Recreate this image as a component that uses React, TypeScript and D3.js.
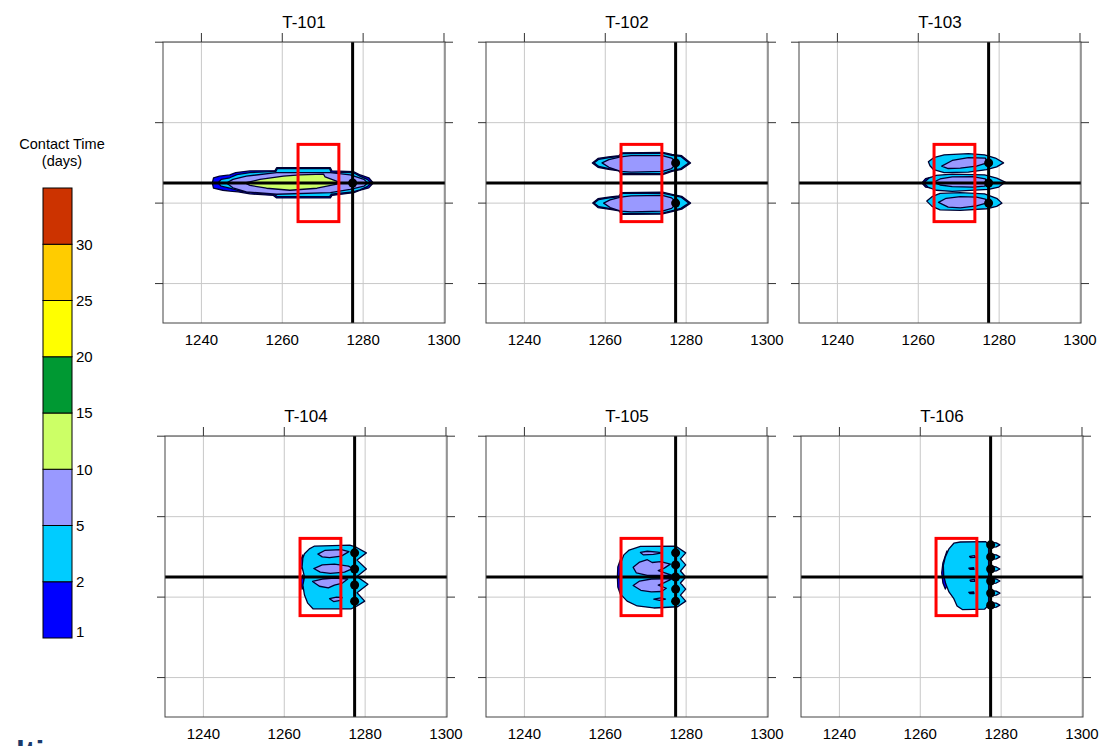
import React from "react";
import * as d3 from "d3";

type Pt = [number, number];
type Ring = { level: number; pts: Pt[] };

// axis ticks (x is labelled, y only ticked)
const X_TICKS = [1240, 1260, 1280, 1300];
const Y_TICKS = [10, 30, 50, 70];

// contact time classes (days) and their fill colours
const LEVELS = [1, 2, 5, 10, 15, 20, 25, 30];
const LEVEL_COLORS = ["#0000ff", "#00ccff", "#9999ff", "#ccff66", "#009933", "#ffff00", "#ffcc00", "#cc3300"];

const TITLES = ["T-101", "T-102", "T-103", "T-104", "T-105", "T-106"];

// crosshair and target zone
const CROSS_X = 1277.4;
const CROSS_Y = 35;
const TARGET_X = [1263.9, 1274.0];
const TARGET_Y = [25.4, 44.6];

// well screens (y positions on the crosshair line)
const WELLS_101 = [35];
const WELLS_102 = [40, 30];
const WELLS_103 = [40, 35, 30];
const WELLS_104 = [41, 37, 33, 29];
const WELLS_105 = [41, 38, 35, 32, 29];
const WELLS_106 = [43, 40, 37, 34, 31, 28];

const CONTOURS_101: Ring[] = [
  { level: 1, pts: [[1242.7, 35], [1243, 36.3], [1244.5, 36.7], [1247, 37], [1248.5, 37.6], [1252, 38], [1258.2, 38.1], [1258.6, 38.8], [1271.9, 38.8], [1272.3, 38], [1277.7, 37.8], [1279.3, 37], [1281.4, 36.3], [1282.5, 35], [1281.4, 33.8], [1279.3, 33.2], [1277.7, 32.6], [1272.3, 31.9], [1271.9, 31.3], [1258.6, 31.3], [1257.8, 31.9], [1252, 32.3], [1249.1, 32.8], [1247, 33], [1245.3, 33.2], [1243, 33.7]] },
  { level: 2, pts: [[1244.1, 35], [1244.9, 35.9], [1247, 36.3], [1248.8, 37.1], [1252, 37.6], [1258.4, 37.9], [1258.8, 38.6], [1271.7, 38.6], [1272.1, 37.7], [1277.5, 37.6], [1279.2, 36.7], [1281, 35.9], [1282, 35], [1281, 34.1], [1279.2, 33.3], [1277.5, 32.8], [1272.1, 32.2], [1271.7, 31.6], [1258.8, 31.6], [1258, 32.2], [1252, 32.6], [1248.8, 33.2], [1247, 33.7], [1244.9, 34.2]] },
  { level: 5, pts: [[1246.2, 35], [1247.8, 35.9], [1251.1, 36.7], [1258.6, 37.6], [1271.9, 37.6], [1276.8, 37], [1280.2, 35.9], [1281.1, 35], [1280.2, 34.2], [1276.8, 33.4], [1271.9, 32.6], [1258.6, 32.2], [1251.1, 32.8], [1247.8, 33.8]] },
  { level: 10, pts: [[1250.8, 35], [1254.5, 35.9], [1260.3, 36.7], [1264.4, 37], [1270.2, 37.2], [1270.6, 36.5], [1273.9, 35.3], [1273.5, 34.7], [1268.6, 33.7], [1261.9, 33.2], [1256.1, 33.7], [1252, 34.4]] },
];

const CONTOURS_102: Ring[] = [
  { level: 1, pts: [[1256.8, 40], [1258.2, 41.1], [1260.8, 41.5], [1263.4, 41.8], [1264, 42.5], [1274.2, 42.6], [1276.5, 42.1], [1278.9, 41.8], [1281.1, 40], [1278.9, 38.4], [1276.5, 37.9], [1274.2, 37.1], [1264, 37.1], [1263.4, 38], [1260.8, 38.4], [1258.2, 38.9]] },
  { level: 1, pts: [[1256.9, 30], [1258.2, 31.1], [1260.8, 31.5], [1263.4, 31.8], [1264, 32.6], [1274.2, 32.7], [1276.5, 32.2], [1278.9, 31.7], [1281.1, 30], [1278.9, 28.5], [1276.5, 27.9], [1274.2, 27.3], [1264, 27.2], [1263.4, 28.1], [1260.8, 28.5], [1258.2, 28.9]] },
  { level: 2, pts: [[1257.2, 40], [1258.4, 40.9], [1260.9, 41.3], [1263.6, 41.6], [1264.2, 42.3], [1274.1, 42.4], [1276.4, 41.9], [1278.7, 41.6], [1280.7, 40], [1278.7, 38.6], [1276.4, 38.1], [1274.1, 37.3], [1264.2, 37.3], [1263.6, 38.2], [1260.9, 38.6], [1258.4, 39.1]] },
  { level: 2, pts: [[1257.2, 30], [1258.4, 30.9], [1260.9, 31.3], [1263.6, 31.6], [1264.2, 32.4], [1274.1, 32.5], [1276.4, 32], [1278.7, 31.5], [1280.7, 30], [1278.7, 28.7], [1276.4, 28.1], [1274.1, 27.5], [1264.2, 27.4], [1263.6, 28.3], [1260.9, 28.7], [1258.4, 29.1]] },
  { level: 5, pts: [[1259.2, 40], [1260.9, 40.8], [1263.8, 41.5], [1266.4, 41.8], [1274.1, 41.8], [1276.4, 41.2], [1277.7, 40], [1276.4, 38.6], [1274.1, 37.9], [1266.4, 37.7], [1263.8, 37.9], [1260.9, 38.9]] },
  { level: 5, pts: [[1259.6, 30], [1261.2, 30.8], [1263.8, 31.5], [1266.4, 31.8], [1274.1, 31.9], [1276.4, 31.3], [1277.7, 30], [1276.4, 28.7], [1274.1, 28], [1266.4, 27.8], [1263.8, 28], [1261.2, 28.9]] },
];

const CONTOURS_103: Ring[] = [
  { level: 1, pts: [[1260.9, 35], [1261.8, 36.1], [1263, 36.4], [1263, 33.8], [1261.8, 34]] },
  { level: 2, pts: [[1262.5, 40.3], [1263.8, 41.3], [1266.4, 42], [1272.4, 42.3], [1276.4, 42], [1279.1, 41.2], [1281.1, 40], [1279.4, 39], [1276.9, 38.3], [1272.4, 37.7], [1266.4, 37.6], [1263.8, 38.3], [1262.9, 39.3]] },
  { level: 2, pts: [[1261.3, 35], [1262.6, 36.2], [1264.4, 36.9], [1268.4, 37.2], [1276.4, 37], [1279.4, 36.2], [1281.5, 35.2], [1279.9, 34], [1277.4, 33.4], [1268.4, 32.9], [1264.4, 33.2], [1262.4, 34]] },
  { level: 2, pts: [[1262.1, 30.5], [1263.4, 31.6], [1265.4, 32.4], [1270.4, 32.6], [1276.4, 32.3], [1279.4, 31.2], [1280.7, 30], [1279.4, 29.2], [1276.9, 28.6], [1270.4, 28.2], [1265.4, 28.3], [1263.4, 29.2]] },
  { level: 5, pts: [[1265.8, 39.2], [1268.4, 40.6], [1272.4, 41.3], [1276.6, 41.2], [1277, 40], [1274.4, 39.2], [1270.4, 38.7], [1267.4, 38.6]] },
  { level: 5, pts: [[1263.8, 35.2], [1265.4, 36], [1268.4, 36.5], [1273.4, 36.6], [1276.6, 36], [1276.9, 35], [1276.4, 34.2], [1273.4, 34], [1268.4, 34.1], [1265.4, 34.5]] },
  { level: 5, pts: [[1265, 30.2], [1266.9, 31.2], [1270.4, 31.6], [1274.4, 31.5], [1276.6, 31], [1276.8, 30], [1274.4, 29.3], [1270.4, 28.8], [1267.4, 29]] },
];

const CONTOURS_104: Ring[] = [
  { level: 1, pts: [[1264.6, 40.5], [1264, 39], [1264, 37.5], [1264.6, 36.8], [1265, 38.5]] },
  { level: 1, pts: [[1264.6, 35.5], [1264.1, 34], [1264.4, 32], [1265, 33]] },
  { level: 2, pts: [[1265, 40.8], [1266.2, 42], [1267.5, 42.7], [1276.2, 42.9], [1277.8, 42.4], [1280.3, 41], [1278, 39.2], [1280.3, 37], [1278, 35.1], [1280.7, 33.2], [1278, 31.1], [1279.9, 29], [1278, 27.8], [1276.6, 27.1], [1267.1, 27.1], [1265.8, 28.5], [1265, 30.5], [1264.6, 33], [1265, 35], [1264.4, 37.5], [1264.6, 39.7]] },
  { level: 5, pts: [[1268.3, 40.7], [1270, 41.6], [1274.1, 41.8], [1276, 41.3], [1274.1, 40.2], [1271.2, 39.8], [1269.4, 40]] },
  { level: 5, pts: [[1267.3, 37.1], [1269.4, 38], [1272.4, 38.2], [1275.9, 37.7], [1276.9, 37.1], [1274.9, 36.2], [1271.4, 35.9], [1268.9, 36.2]] },
  { level: 5, pts: [[1267, 33.9], [1269.4, 34.5], [1272.4, 34.7], [1275.7, 34.5], [1274.4, 33.5], [1272.4, 33], [1270.9, 32.3], [1268.7, 32.7]] },
  { level: 5, pts: [[1271.2, 29.6], [1272.9, 30], [1274.3, 29.9], [1273.9, 29.2], [1272.2, 28.9]] },
];

const CONTOURS_105: Ring[] = [
  { level: 1, pts: [[1263.8, 39.5], [1263.1, 37.5], [1263, 35], [1263.1, 32.5], [1263.8, 30.5], [1264.4, 31], [1264.4, 39]] },
  { level: 2, pts: [[1264.6, 40.5], [1265.9, 41.7], [1268.7, 42.6], [1277.4, 42.7], [1279.9, 41], [1278.6, 39.5], [1279.9, 38], [1278.6, 36.5], [1279.9, 35], [1278.6, 33.5], [1279.9, 32], [1278.6, 30.5], [1279.9, 29], [1277.9, 27.6], [1272, 27.3], [1267.9, 27.8], [1265.4, 29], [1264, 30.5], [1263.8, 33], [1263.6, 35], [1263.8, 37.5], [1264, 39]] },
  { level: 5, pts: [[1268.7, 41.1], [1270.4, 41.4], [1272.9, 41.2], [1274.1, 41], [1271.9, 40.6], [1269.4, 40.5]] },
  { level: 5, pts: [[1266.9, 37.4], [1268.5, 38.7], [1270.4, 39.3], [1271.6, 38.6], [1273.7, 38.8], [1276.1, 38.2], [1274.6, 37.2], [1273.1, 36.6], [1275.1, 35.9], [1276.6, 35.4], [1270.4, 35.4], [1267.7, 36]] },
  { level: 5, pts: [[1266.9, 32.9], [1268.5, 34], [1271.4, 34.5], [1276.6, 34.6], [1274.6, 33.6], [1273.1, 33], [1275.1, 32.2], [1273.9, 31.4], [1271.4, 31.3], [1268.8, 31.7]] },
  { level: 5, pts: [[1272, 29.5], [1273.7, 29.8], [1274.9, 29.5], [1273.4, 29.2]] },
];

const CONTOURS_106: Ring[] = [
  { level: 1, pts: [[1266.6, 41.5], [1265.6, 38.5], [1265.3, 36], [1265.6, 33.5], [1266.2, 32], [1266.7, 33], [1266.3, 36], [1266.6, 39.5]] },
  { level: 2, pts: [[1268.3, 43.4], [1269.9, 43.7], [1276.2, 43.8], [1276.9, 43], [1276.9, 28], [1275.9, 27], [1270.4, 26.9], [1269.1, 27.8], [1268.3, 29.6], [1267.1, 31.3], [1266.3, 33.3], [1265.8, 35.4], [1265.7, 37.9], [1266.2, 40], [1267.1, 42]] },
  { level: 2, pts: [[1277, 43.7], [1278.8, 43.5], [1279.7, 43], [1278.8, 42.5], [1277, 42.3]] },
  { level: 2, pts: [[1277, 40.7], [1278.8, 40.5], [1279.7, 40], [1278.8, 39.5], [1277, 39.3]] },
  { level: 2, pts: [[1277, 37.7], [1278.8, 37.5], [1279.7, 37], [1278.8, 36.5], [1277, 36.3]] },
  { level: 2, pts: [[1277, 34.7], [1278.8, 34.5], [1279.7, 34], [1278.8, 33.5], [1277, 33.3]] },
  { level: 2, pts: [[1277, 31.7], [1278.8, 31.5], [1279.7, 31], [1278.8, 30.5], [1277, 30.3]] },
  { level: 2, pts: [[1277, 28.7], [1278.8, 28.5], [1279.7, 28], [1278.8, 27.5], [1277, 27.3]] },
  { level: 5, pts: [[1272.2, 40.1], [1273.4, 40.3], [1273.6, 39.9], [1272.5, 39.8]] },
  { level: 5, pts: [[1272, 37.2], [1273.2, 37.3], [1273.3, 36.9], [1272.3, 36.9]] },
  { level: 5, pts: [[1272.3, 34.2], [1273.4, 34.4], [1273.5, 33.9], [1272.5, 33.9]] },
  { level: 5, pts: [[1272, 31.2], [1273.2, 31.3], [1273.3, 30.9], [1272.3, 30.9]] },
];

const WELLS = [WELLS_101, WELLS_102, WELLS_103, WELLS_104, WELLS_105, WELLS_106];
const CONTOURS = [CONTOURS_101, CONTOURS_102, CONTOURS_103, CONTOURS_104, CONTOURS_105, CONTOURS_106];

const PANEL_W = 282;
const PANEL_H = 281;
const PANEL_LEFT = [163, 486, 799, 165, 486, 801];
const PANEL_TOP = [42, 42, 42, 436, 436, 436];
const FONT = "'Liberation Sans', Arial, Helvetica, sans-serif";

const levelColor = d3.scaleOrdinal<number, string>().domain(LEVELS).range(LEVEL_COLORS);

function Panel({ left, top, title, wells, contours }: { left: number; top: number; title: string; wells: number[]; contours: Ring[] }) {
  const x = d3.scaleLinear().domain([1230.5, 1300.25]).range([left, left + PANEL_W]);
  const y = d3.scaleLinear().domain([0.2, 70.05]).range([top + PANEL_H, top]);
  const ring = d3.line<Pt>().x((d) => x(d[0])).y((d) => y(d[1])).curve(d3.curveLinearClosed);
  const rings = [...contours].sort((a, b) => a.level - b.level);
  const clipId = `clip-${title}`;

  return (
    <g>
      <defs>
        <clipPath id={clipId}>
          <rect x={left} y={top} width={PANEL_W} height={PANEL_H} />
        </clipPath>
      </defs>
      <text x={left + PANEL_W / 2} y={top - 14} textAnchor="middle" fontSize={17} fontFamily={FONT}>
        {title}
      </text>
      {/* grid */}
      {X_TICKS.map((t) => (
        <line key={`gx${t}`} x1={x(t)} x2={x(t)} y1={top} y2={top + PANEL_H} stroke="#c8c8c8" />
      ))}
      {Y_TICKS.map((t) => (
        <line key={`gy${t}`} x1={left} x2={left + PANEL_W} y1={y(t)} y2={y(t)} stroke="#c8c8c8" />
      ))}
      <g clipPath={`url(#${clipId})`}>
        {rings.map((r, i) => (
          <path key={i} d={ring(r.pts) ?? ""} fill={levelColor(r.level)} stroke="#000033" strokeWidth={1.3} strokeLinejoin="round" />
        ))}
        <line x1={left} x2={left + PANEL_W} y1={y(CROSS_Y)} y2={y(CROSS_Y)} stroke="#000" strokeWidth={3} />
        <line x1={x(CROSS_X)} x2={x(CROSS_X)} y1={top} y2={top + PANEL_H} stroke="#000" strokeWidth={3} />
        <rect
          x={x(TARGET_X[0])}
          y={y(TARGET_Y[1])}
          width={x(TARGET_X[1]) - x(TARGET_X[0])}
          height={y(TARGET_Y[0]) - y(TARGET_Y[1])}
          fill="none"
          stroke="#ff0000"
          strokeWidth={3}
        />
        {wells.map((w, i) => (
          <circle key={i} cx={x(CROSS_X)} cy={y(w)} r={4.5} fill="#000" />
        ))}
      </g>
      <rect x={left} y={top} width={PANEL_W} height={PANEL_H} fill="none" stroke="#444" strokeWidth={1} />
      {/* ticks: top, left and right */}
      {X_TICKS.map((t) => (
        <line key={`tx${t}`} x1={x(t)} x2={x(t)} y1={top} y2={top - 9} stroke="#333" />
      ))}
      {Y_TICKS.map((t) => (
        <g key={`ty${t}`}>
          <line x1={left - 8} x2={left} y1={y(t)} y2={y(t)} stroke="#333" />
          <line x1={left + PANEL_W} x2={left + PANEL_W + 8} y1={y(t)} y2={y(t)} stroke="#333" />
        </g>
      ))}
      {X_TICKS.map((t) => (
        <text key={`lx${t}`} x={x(t)} y={top + PANEL_H + 22} textAnchor="middle" fontSize={15} fontFamily={FONT}>
          {t}
        </text>
      ))}
    </g>
  );
}

function Legend() {
  const barX = 43;
  const barW = 29;
  const yBar = d3.scaleLinear().domain([0, LEVELS.length]).range([638, 188]);
  return (
    <g fontFamily={FONT}>
      <text x={62} y={149} textAnchor="middle" fontSize={14.5}>Contact Time</text>
      <text x={62} y={166} textAnchor="middle" fontSize={14.5}>(days)</text>
      {LEVELS.map((lv, i) => (
        <rect
          key={lv}
          x={barX}
          y={yBar(i + 1)}
          width={barW}
          height={yBar(i) - yBar(i + 1)}
          fill={levelColor(lv)}
          stroke="#000"
          strokeWidth={1}
        />
      ))}
      {LEVELS.map((lv, i) => (
        <text key={`l${lv}`} x={barX + barW + 4} y={i === 0 ? yBar(i) - 6 : yBar(i)} dy="0.35em" fontSize={15}>
          {lv}
        </text>
      ))}
    </g>
  );
}

export default function App() {
  return (
    <svg width={1099} height={746} style={{ position: "absolute", left: 0, top: 0, background: "#fff" }}>
      <rect width={1099} height={746} fill="#fff" />
      <Legend />
      {TITLES.map((t, i) => (
        <Panel key={t} left={PANEL_LEFT[i]} top={PANEL_TOP[i]} title={t} wells={WELLS[i]} contours={CONTOURS[i]} />
      ))}
      <text x={16} y={763} fontSize={32} fontWeight="bold" fill="#1b3a6b" fontFamily={FONT}>lti</text>
    </svg>
  );
}
